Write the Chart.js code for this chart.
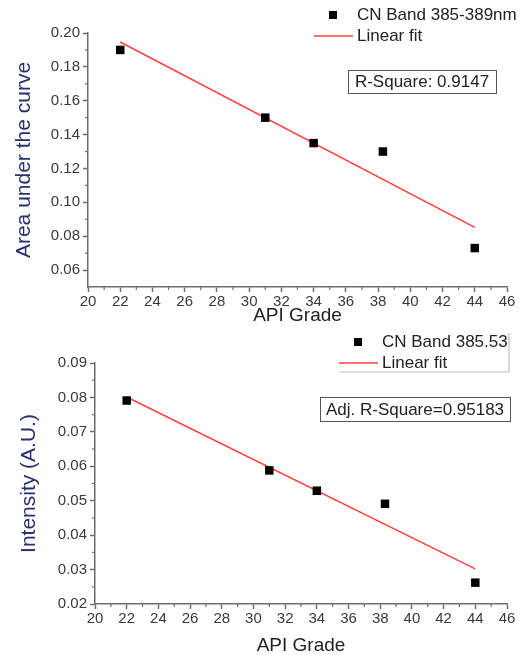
<!DOCTYPE html>
<html>
<head>
<meta charset="utf-8">
<script src="https://cdn.jsdelivr.net/npm/chart.js@4"></script>
<style>
  html, body { margin: 0; padding: 0; background: #fff; overflow: hidden; }
  .box { position: absolute; left: 0; width: 520px; height: 330px; }
  #topBox { top: 0; }
  #botBox { top: 330px; }
</style>
</head>
<body>
<div class="box" id="topBox"><canvas id="areaChart" width="520" height="330"></canvas></div>
<div class="box" id="botBox"><canvas id="intensityChart" width="520" height="330"></canvas></div>
<script>
  // Data
  const apiGrade       = [22, 31, 34, 38.3, 44];
  const areaUnderCurve = [0.190, 0.150, 0.135, 0.130, 0.073];
  const intensity      = [0.0791, 0.0588, 0.0529, 0.0491, 0.0262];
  const fitX           = [22, 44];
  const areaFit        = [0.1947, 0.0852];
  const intensityFit   = [0.0801, 0.0302];
  const xTicks         = [20, 22, 24, 26, 28, 30, 32, 34, 36, 38, 40, 42, 44, 46];
  const areaTicks      = [0.06, 0.08, 0.10, 0.12, 0.14, 0.16, 0.18, 0.20];
  const intensityTicks = [0.02, 0.03, 0.04, 0.05, 0.06, 0.07, 0.08, 0.09];

  const axisColor = '#6e6e6e';
  const font = '"Liberation Sans", Arial, sans-serif';
  const toXY = (xs, ys) => xs.map((x, i) => ({ x, y: ys[i] }));

  // minor ticks halfway between major ones, drawn through the scales
  const minorTicks = {
    id: 'minorTicks',
    afterDraw(chart) {
      const ctx = chart.ctx;
      ctx.save();
      ctx.strokeStyle = axisColor;
      ctx.lineWidth = 1.2;
      ['x', 'y'].forEach(id => {
        const s = chart.scales[id];
        const vals = s.ticks.map(t => t.value);
        for (let i = 0; i < vals.length - 1; i++) {
          const p = s.getPixelForValue((vals[i] + vals[i + 1]) / 2);
          ctx.beginPath();
          if (id === 'x') { ctx.moveTo(p, s.top); ctx.lineTo(p, s.top + 3); }
          else { ctx.moveTo(s.right, p); ctx.lineTo(s.right - 3, p); }
          ctx.stroke();
        }
      });
      ctx.restore();
    }
  };

  // legend + R-square box
  const legendBox = {
    id: 'legendBox',
    afterDraw(chart, args, o) {
      const ctx = chart.ctx;
      const [pts, fit] = chart.data.datasets;
      ctx.save();
      ctx.font = '17px ' + font;
      ctx.fillStyle = '#222';
      ctx.textBaseline = 'middle';
      // scatter entry
      const m = 8;
      ctx.fillStyle = pts.backgroundColor;
      ctx.fillRect(o.markX - m / 2, o.row1 - m / 2, m, m);
      ctx.fillStyle = '#222';
      ctx.fillText(pts.label, o.textX, o.row1);
      // fit entry
      ctx.strokeStyle = fit.borderColor;
      ctx.lineWidth = fit.borderWidth;
      ctx.beginPath();
      ctx.moveTo(o.lineX0, o.row2);
      ctx.lineTo(o.lineX1, o.row2);
      ctx.stroke();
      ctx.fillText(fit.label, o.textX, o.row2);
      if (o.frame) {
        ctx.strokeStyle = '#bdbdbd';
        ctx.lineWidth = 1.2;
        ctx.beginPath();
        ctx.moveTo(o.frame.right, o.frame.top);
        ctx.lineTo(o.frame.right, o.frame.bottom);
        ctx.lineTo(o.frame.left, o.frame.bottom);
        ctx.stroke();
      }
      // stats box
      const b = o.stat;
      ctx.strokeStyle = '#555';
      ctx.lineWidth = 1;
      ctx.strokeRect(b.x + 0.5, b.y + 0.5, b.w, b.h);
      ctx.textAlign = 'center';
      ctx.fillText(b.text, b.x + b.w / 2, b.y + b.h / 2 + 1);
      ctx.restore();
    }
  };

  function makeChart(canvasId, ys, fitYs, seriesLabel, yTicks, yMin, yMax, yTitle, yWidth, yTitlePad, xHeight, legendOpts) {
    return new Chart(document.getElementById(canvasId), {
      type: 'scatter',
      data: {
        datasets: [
          {
            label: seriesLabel,
            data: toXY(apiGrade, ys),
            pointStyle: 'rect',
            pointRadius: 6,
            backgroundColor: '#000',
            borderColor: '#000',
            borderWidth: 0
          },
          {
            label: 'Linear fit',
            data: toXY(fitX, fitYs),
            showLine: true,
            pointRadius: 0,
            borderColor: '#ff4040',
            borderWidth: 1.6
          }
        ]
      },
      options: {
        responsive: false,
        animation: false,
        layout: { padding: { top: 33, right: 13, bottom: 0, left: 0 } },
        plugins: {
          legend: { display: false },
          tooltip: { enabled: false },
          legendBox: legendOpts
        },
        scales: {
          x: {
            type: 'linear',
            min: 20,
            max: 46,
            afterBuildTicks: s => { s.ticks = xTicks.map(v => ({ value: v })); },
            afterFit: s => { s.height = xHeight; },
            grid: { drawOnChartArea: false, tickLength: 5, tickColor: axisColor, tickWidth: 1.5 },
            border: { color: axisColor, width: 1.5 },
            ticks: { autoSkip: false, maxRotation: 0, padding: 1, color: '#3a3a3a', font: { family: font, size: 15 } },
            title: { display: true, text: 'API Grade', color: '#222', font: { family: font, size: 19 }, padding: { top: 0, bottom: 3 } }
          },
          y: {
            min: yMin,
            max: yMax,
            afterBuildTicks: s => { s.ticks = yTicks.map(v => ({ value: v })); },
            afterFit: s => { s.width = yWidth; },
            grid: { drawOnChartArea: false, tickLength: 5, tickColor: axisColor, tickWidth: 1.5 },
            border: { color: axisColor, width: 1.5 },
            ticks: { padding: 3, color: '#3a3a3a', font: { family: font, size: 15 }, callback: v => v.toFixed(2) },
            title: { display: true, text: yTitle, color: '#2a2f6e', font: { family: font, size: 21 }, padding: { top: yTitlePad, bottom: 0 } }
          }
        }
      },
      plugins: [minorTicks, legendBox]
    });
  }

  makeChart('areaChart', areaUnderCurve, areaFit, 'CN Band 385-389nm', areaTicks, 0.05, 0.20,
    'Area under the curve', 88, 12, 43, {
      markX: 333, textX: 357, row1: 15, row2: 36, lineX0: 314, lineX1: 353,
      stat: { x: 348, y: 70, w: 148, h: 23, text: 'R-Square: 0.9147' }
    });

  makeChart('intensityChart', intensity, intensityFit, 'CN Band 385.53', intensityTicks, 0.02, 0.09,
    'Intensity (A.U.)', 95, 17, 56, {
      markX: 358, textX: 382, row1: 12, row2: 33, lineX0: 339, lineX1: 378,
      frame: { left: 339, right: 509, top: 3, bottom: 42 },
      stat: { x: 320, y: 67, w: 190, h: 24, text: 'Adj. R-Square=0.95183' }
    });
</script>
</body>
</html>
